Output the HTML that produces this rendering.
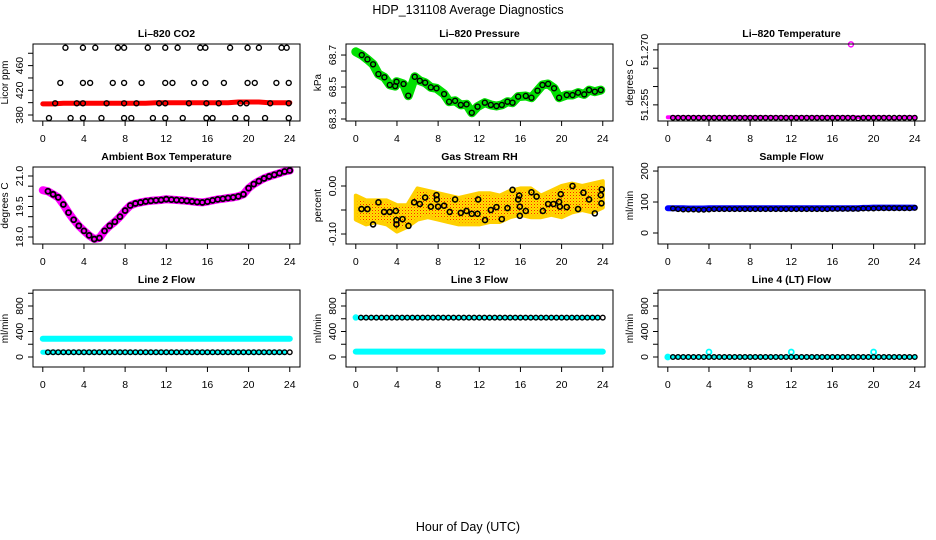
<!DOCTYPE html>
<html><head><meta charset="utf-8"><title>HDP_131108 Average Diagnostics</title>
<style>
html,body{margin:0;padding:0;background:#fff;}
svg{display:block;font-family:"Liberation Sans",Arial,sans-serif;}
</style></head>
<body>
<svg id="chart" width="936" height="540" viewBox="0 0 936 540" xmlns="http://www.w3.org/2000/svg">
<defs>
<pattern id="orng" width="3" height="3" patternUnits="userSpaceOnUse">
<rect width="3" height="3" fill="#ffe000"/><rect width="1" height="1" fill="#ff2000"/><rect x="1.5" y="1.5" width="1" height="1" fill="#ff8c00"/>
</pattern>
</defs>
<rect width="936" height="540" fill="#fff"/>
<text x="468" y="14" text-anchor="middle" font-size="12.5">HDP_131108  Average Diagnostics</text>
<text x="468" y="531" text-anchor="middle" font-size="12.5">Hour of Day (UTC)</text>
</svg>
<script>
// ---------- data ----------
const xTicks = [0,4,8,12,16,20,24];
// CO2
const co2BandHours = [0,1,2,3,4,5,6,7,8,9,10,11,12,13,14,15,16,17,18,19,20,21,22,23,24];
const co2BandValues = [398,398,399,399,399,399,399,399,399,399,399,400,400,400,400,400,400,400,400,401,401,401,400,400,400];
const co2Hours = [2.2,3.9,5.1,7.3,7.9,10.2,11.9,13.1,15.3,15.8,18.2,19.9,21.0,23.2,23.7,
 1.7,3.9,4.6,6.8,7.9,9.6,11.9,12.6,14.7,15.8,17.6,19.9,20.6,22.7,23.9,
 1.2,3.3,3.9,6.2,7.9,9.1,11.3,11.9,14.2,15.9,17.1,19.2,19.8,22.1,23.9,
 0.6,2.7,3.9,5.7,7.9,8.6,10.7,11.9,13.6,15.9,16.5,18.7,19.8,21.6,23.9];
const co2Values = [489,489,489,489,489,489,489,489,489,489,489,489,489,489,489,
 432,432,432,432,432,432,432,432,432,432,432,432,432,432,432,
 399,399,399,399,399,399,399,399,399,399,399,399,399,399,399,
 375,375,375,375,375,375,375,375,375,375,375,375,375,375,375];
// Pressure
const presHours = [0,0.58,1.13,1.68,2.2,2.78,3.3,3.83,3.96,4.64,5.1,5.73,6.22,6.74,7.29,7.84,8.58,9.07,9.65,10.2,10.76,11.27,11.83,12.54,13.12,13.67,14.19,14.74,15.23,15.78,16.52,17.07,17.66,18.14,18.69,19.27,19.76,20.5,21.06,21.6,22.2,22.67,23.23,23.81];
const presValues = [68.72,68.700,68.673,68.642,68.581,68.561,68.513,68.506,68.533,68.519,68.446,68.564,68.539,68.527,68.498,68.492,68.456,68.408,68.414,68.388,68.392,68.339,68.377,68.402,68.388,68.381,68.388,68.408,68.402,68.440,68.444,68.433,68.477,68.513,68.519,68.492,68.433,68.450,68.450,68.465,68.454,68.481,68.471,68.481];
// Li-820 temperature
const tempMagenta = [51.2516,51.2516,51.2516,51.2516,51.2516,51.2516,51.2516,51.2516,51.2516,51.2516,51.2516,51.2516,51.2516,51.2516,51.2516,51.2516,51.2516,51.2516,51.2516,51.2516,51.2516,51.2516,51.2516,51.2516,51.2516,51.2516,51.2516,51.2516,51.2516,51.2516,51.2516,51.2516,51.2516,51.2516,51.2516,51.2516,51.2516,51.2516,51.2516,51.2516,51.2516,51.2516,51.2516,51.2516,51.2513,51.2516,51.2516,51.2516,51.2516];
const tempBlack = [51.2515,51.2515,51.2515,51.2515,51.2515,51.2515,51.2515,51.2515,51.2515,51.2515,51.2515,51.2515,51.2515,51.2515,51.2515,51.2515,51.2515,51.2515,51.2515,51.2515,51.2515,51.2515,51.2515,51.2515,51.2515,51.2515,51.2515,51.2515,51.2515,51.2515,51.2515,51.2515,51.2515,51.2515,51.2515,51.2515,51.2513,51.2515,51.2515,51.2515,51.2515,51.2515,51.2515,51.2515,51.2515,51.2515,51.2515,51.2515];
const tempOutlierHours = [17.8];
const tempOutlierValues = [51.2715];
// Ambient box temperature (half-hourly)
const ambValues = [20.3,20.25,20.1,19.95,19.6,19.2,18.85,18.55,18.3,18.08,17.9,17.95,18.3,18.55,18.75,19.0,19.3,19.55,19.65,19.7,19.75,19.78,19.8,19.82,19.86,19.84,19.82,19.8,19.78,19.75,19.72,19.7,19.74,19.8,19.85,19.88,19.92,19.95,20.0,20.1,20.4,20.6,20.75,20.88,20.98,21.06,21.14,21.22,21.27];
// Gas stream RH
const rhBandHours = [0,1,2,3,4,5,6,7,8,9,10,11,12,13,14,15,16,17,18,19,20,21,22,23,24];
const rhUpper = [-0.02,-0.03,-0.03,-0.03,-0.04,-0.04,-0.005,-0.01,-0.015,-0.02,-0.025,-0.02,-0.015,-0.015,-0.02,-0.01,-0.005,-0.005,-0.02,-0.01,0.0,0.005,0.0,0.005,0.01];
const rhLower = [-0.07,-0.08,-0.075,-0.08,-0.095,-0.085,-0.07,-0.065,-0.07,-0.075,-0.08,-0.08,-0.08,-0.075,-0.075,-0.065,-0.06,-0.065,-0.065,-0.06,-0.065,-0.055,-0.05,-0.055,-0.045];
const rhHours = [0.55,1.13,1.68,2.2,2.75,3.3,3.89,3.95,3.95,4.54,5.12,5.67,6.22,6.74,7.29,7.84,7.87,8.0,8.58,9.13,9.65,10.2,10.76,11.27,11.83,11.89,12.56,13.12,13.67,14.19,14.74,15.23,15.78,15.88,15.94,15.94,16.52,17.07,17.57,18.18,18.69,19.21,19.76,19.83,19.92,20.5,21.06,21.6,22.12,22.67,23.23,23.81,23.87,23.9];
const rhValues = [-0.048,-0.048,-0.080,-0.034,-0.054,-0.054,-0.052,-0.071,-0.080,-0.069,-0.083,-0.034,-0.0375,-0.024,-0.043,-0.019,-0.028,-0.043,-0.041,-0.054,-0.028,-0.056,-0.052,-0.058,-0.058,-0.028,-0.071,-0.05,-0.044,-0.069,-0.046,-0.008,-0.028,-0.020,-0.043,-0.062,-0.052,-0.013,-0.022,-0.052,-0.0375,-0.0375,-0.033,-0.043,-0.017,-0.044,0.000,-0.048,-0.014,-0.028,-0.057,-0.019,-0.036,-0.007];
// Flows (half-hourly)
const sampleBlue = [80,80,80,80,79,79,79,79,80,80,80,80,80,80,80,80,80,80,80,80,80,80,80,80,80,80,80,80,80,80,80,80,80,80,80,80,80,80,81,81,82,82,82,82,82,82,82,82,82];
const sampleBlack = [79,77,76,76,76,75,75,76,77,77,77,77,77,77,77,77,77,77,77,77,77,77,77,77,77,77,77,77,77,77,77,78,78,78,78,78,78,79,79,79,80,80,80,80,80,80,80,81];
const line2Cyan = [285,285,285,285,285,285,285,285,285,285,285,285,285,285,285,285,285,285,285,285,285,285,285,285,285,285,285,285,285,285,285,285,285,285,285,285,285,285,285,285,285,285,285,285,285,285,285,285,285];
const line2Black = [75,75,75,75,75,75,75,75,75,75,75,75,75,75,75,75,75,75,75,75,75,75,75,75,75,75,75,75,75,75,75,75,75,75,75,75,75,75,75,75,75,75,75,75,75,75,75,75];
const line3Cyan = [85,85,85,85,85,85,85,85,85,85,85,85,85,85,85,85,85,85,85,85,85,85,85,85,85,85,85,85,85,85,85,85,85,85,85,85,85,85,85,85,85,85,85,85,85,85,85,85,85];
const line3Black = [618,618,618,618,618,618,618,618,618,618,618,618,618,618,618,618,618,618,618,618,618,618,618,618,618,618,618,618,618,618,618,618,618,618,618,618,618,618,618,618,618,618,618,618,618,618,618,618];
const line3CyanHours = [0];
const line3CyanValues = [620];
const line4Black = [0,0,0,0,0,0,0,0,0,0,0,0,0,0,0,0,0,0,0,0,0,0,0,0,0,0,0,0,0,0,0,0,0,0,0,0,0,0,0,0,0,0,0,0,0,0,0,0];
const line4CyanHours = [0,4,12,20];
const line4CyanValues = [0,78,78,78];

const halfHours = []; for (let i = 0; i <= 48; i++) halfHours.push(i * 0.5);
const blackHours = halfHours.slice(1);

// ---------- drawing ----------
const svg = document.getElementById('chart');
const NS = 'http://www.w3.org/2000/svg';
function mk(tag, attrs, parent) {
  const e = document.createElementNS(NS, tag);
  for (const k in attrs) e.setAttribute(k, attrs[k]);
  (parent || svg).appendChild(e);
  return e;
}
const COLS = [33, 346, 658];
const ROWS = [44, 167, 290];
const W = 267, H = 77;

function makePanel(name, col, row, title, ytitle, ymin, ymax, ticks, labels) {
  const left = COLS[col], top = ROWS[row], bottom = top + H;
  const g = mk('g', {});
  
  
  const x = h => left + 9.8 + h * 10.29;
  const y = v => bottom - (v - ymin) / (ymax - ymin) * H;
  const p = {g, x, y, left, top, bottom};
  const ttl = mk('text', {x: left + W / 2, y: top - 7, 'text-anchor': 'middle', 'font-size': 10.5, 'font-weight': 'bold'}, g);
  ttl.textContent = title;
  
  
  const yt = mk('text', {transform: `translate(${left - 25},${top + H / 2}) rotate(-90)`, 'text-anchor': 'middle', 'font-size': 10}, g);
  yt.textContent = ytitle;
  
  
  const xa = mk('g', {}, g);
  
  
  mk('line', {x1: x(0), x2: x(24), y1: bottom, y2: bottom, stroke: '#000'}, xa);
  xTicks.forEach(t => {
    mk('line', {x1: x(t), x2: x(t), y1: bottom, y2: bottom + 5, stroke: '#000'}, xa);
    const tl = mk('text', {x: x(t), y: bottom + 21, 'text-anchor': 'middle', 'font-size': 10.5}, xa);
    tl.textContent = t;
  });
  const ya = mk('g', {}, g);
  
  
  mk('line', {x1: left, x2: left, y1: y(ticks[0]), y2: y(ticks[ticks.length - 1]), stroke: '#000'}, ya);
  ticks.forEach(t => mk('line', {x1: left - 5, x2: left, y1: y(t), y2: y(t), stroke: '#000'}, ya));
  labels.forEach(l => {
    const tl = mk('text', {transform: `translate(${left - 10},${y(parseFloat(l))}) rotate(-90)`, 'text-anchor': 'middle', 'font-size': 10.5}, ya);
    tl.textContent = l;
  });
  p.data = mk('g', {}, g);
  
  
  const box = mk('rect', {x: left, y: top, width: W, height: H, fill: 'none', stroke: '#000'}, g);
  
  
  return p;
}
function band(p, hours, vals, color, width, nm) {
  const pts = hours.map((h, i) => p.x(h).toFixed(1) + ',' + p.y(vals[i]).toFixed(1)).join(' ');
  const pl = mk('polyline', {points: pts, fill: 'none', stroke: color, 'stroke-width': width, 'stroke-linejoin': 'round', 'stroke-linecap': 'round'}, p.data);
  
  
}
function circles(p, hours, vals, color, r, nm, sw) {
  const g = mk('g', {}, p.data);
  
  
  hours.forEach((h, i) => {
    mk('circle', {cx: p.x(h), cy: p.y(vals[i]), r: r, fill: 'none', stroke: color, 'stroke-width': sw || 1.4}, g);
  });
}

// 1 CO2
let p = makePanel('co2', 0, 0, 'Li\u2013820 CO2', 'Licor ppm', 370.3, 495, [380,400,420,440,460,480], ['380','420','460']);
band(p, co2BandHours, co2BandValues, '#ff0000', 5, 'co2-red-series');
circles(p, co2Hours, co2Values, '#000', 2.5, 'co2-black-points');
// 2 Pressure
p = makePanel('pressure', 1, 0, 'Li\u2013820 Pressure', 'kPa', 68.2875, 68.769, [68.3,68.4,68.5,68.6,68.7], ['68.3','68.5','68.7']);
band(p, presHours, presValues, '#00e000', 9, 'pressure-green-series');
circles(p, presHours.slice(1), presValues.slice(1), '#000', 2.5, 'pressure-black-points');
// 3 Li-820 Temperature
p = makePanel('li820-temp', 2, 0, 'Li\u2013820 Temperature', 'degrees C', 51.2506, 51.2716, [51.255,51.260,51.265,51.270], ['51.255','51.270']);
band(p, halfHours, tempMagenta, '#ff00ff', 4, 'li820-temp-magenta-series');
circles(p, blackHours, tempBlack, '#000', 2.3, 'li820-temp-black-points');
circles(p, tempOutlierHours, tempOutlierValues, '#ff00ff', 2.5, 'li820-temp-outlier');
// 4 Ambient
p = makePanel('ambient-temp', 0, 1, 'Ambient Box Temperature', 'degrees C', 17.656, 21.443, [18,18.5,19,19.5,20,20.5,21], ['18.0','19.5','21.0']);
band(p, halfHours, ambValues, '#ff00ff', 8, 'ambient-magenta-series');
circles(p, blackHours, ambValues.slice(1), '#000', 2.5, 'ambient-black-points', 1.8);
// 5 RH
p = makePanel('gas-rh', 1, 1, 'Gas Stream RH', 'percent', -0.1208, 0.0396, [-0.10,-0.05,0.00], ['-0.10','0.00']);
{
  const up = rhBandHours.map((h, i) => p.x(h).toFixed(1) + ',' + p.y(rhUpper[i]).toFixed(1));
  const lo = rhBandHours.map((h, i) => p.x(h).toFixed(1) + ',' + p.y(rhLower[i]).toFixed(1)).reverse();
  const poly = mk('polygon', {points: up.concat(lo).join(' '), fill: 'url(#orng)', stroke: '#ffd000', 'stroke-width': 4, 'stroke-linejoin': 'round'}, p.data);
  
  
}
circles(p, rhHours, rhValues, '#000', 2.5, 'gas-rh-black-points', 1.6);
// 6 Sample flow
p = makePanel('sample-flow', 2, 1, 'Sample Flow', 'ml/min', -35.5, 213, [0,100,200], ['0','100','200']);
band(p, halfHours, sampleBlue, '#0000ff', 6, 'sample-flow-blue-series');
circles(p, blackHours, sampleBlack, '#000', 2.3, 'sample-flow-black-points');
// 7 Line 2
p = makePanel('line2-flow', 0, 2, 'Line 2 Flow', 'ml/min', -157, 1051, [0,200,400,600,800,1000], ['0','400','800']);
band(p, halfHours, line2Cyan, '#00ffff', 6, 'line2-cyan-series');
band(p, halfHours, line2Black, '#00ffff', 5, 'line2-cyan-low-series');
circles(p, blackHours, line2Black, '#000', 2.3, 'line2-black-points');
// 8 Line 3
p = makePanel('line3-flow', 1, 2, 'Line 3 Flow', 'ml/min', -157, 1051, [0,200,400,600,800,1000], ['0','400','800']);
band(p, halfHours, line3Cyan, '#00ffff', 6, 'line3-cyan-series');
band(p, halfHours, line3Black, '#00ffff', 4, 'line3-cyan-high-series');
circles(p, line3CyanHours, line3CyanValues, '#00ffff', 2.5, 'line3-cyan-start');
circles(p, blackHours, line3Black, '#000', 2.3, 'line3-black-points');
// 9 Line 4
p = makePanel('line4-flow', 2, 2, 'Line 4 (LT) Flow', 'ml/min', -157, 1051, [0,200,400,600,800,1000], ['0','400','800']);
band(p, halfHours, halfHours.map(() => 0), '#00ffff', 4, 'line4-cyan-series');
circles(p, line4CyanHours, line4CyanValues, '#00ffff', 2.5, 'line4-cyan-points', 1.8);
circles(p, blackHours, line4Black, '#000', 2.3, 'line4-black-points');
</script>
</body></html>
